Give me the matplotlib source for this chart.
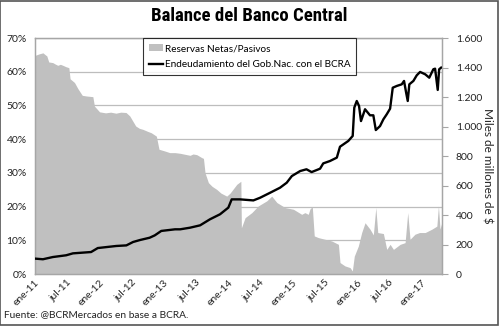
import matplotlib
matplotlib.use("Agg")
import matplotlib.pyplot as plt
import matplotlib.dates as mdates
import matplotlib.ticker as mticker
from matplotlib.patches import Patch, Rectangle
from matplotlib.lines import Line2D
import pandas as pd

plt.rcParams["font.family"] = ["Lato", "DejaVu Sans"]

# Reservas netas / pasivos del BCRA (%)
res_dates = [
    "2011-01-04", "2011-01-25", "2011-02-15", "2011-03-01", "2011-03-09", "2011-03-20",
    "2011-04-12", "2011-04-25", "2011-05-10", "2011-05-25", "2011-06-08", "2011-06-25",
    "2011-07-12", "2011-07-19", "2011-08-13", "2011-09-01", "2011-09-26", "2011-10-20",
    "2011-11-25", "2011-12-04", "2012-01-02", "2012-02-05", "2012-03-05", "2012-04-04",
    "2012-05-01", "2012-05-31", "2012-06-21", "2012-07-25", "2012-08-15", "2012-09-04",
    "2012-10-01", "2012-10-21", "2012-11-19", "2012-12-04", "2013-01-05", "2013-02-03",
    "2013-03-05", "2013-04-03", "2013-05-01", "2013-05-29", "2013-06-15", "2013-07-06",
    "2013-08-04", "2013-08-13", "2013-08-22", "2013-09-10", "2013-10-01", "2013-10-27",
    "2013-11-20", "2013-12-23", "2014-01-11", "2014-02-18", "2014-03-13", "2014-03-16",
    "2014-04-06", "2014-05-14", "2014-06-20", "2014-08-07", "2014-09-04", "2014-10-03",
    "2014-11-19", "2015-01-05", "2015-02-21", "2015-03-11", "2015-03-30", "2015-04-09",
    "2015-04-22", "2015-05-03", "2015-05-26", "2015-07-03", "2015-08-10", "2015-09-17",
    "2015-09-26", "2015-10-24", "2015-11-22", "2015-12-05", "2015-12-16", "2016-01-08",
    "2016-01-27", "2016-02-15", "2016-03-14", "2016-04-02", "2016-04-16", "2016-04-27",
    "2016-05-29", "2016-06-17", "2016-07-06", "2016-07-25", "2016-09-01", "2016-09-29",
    "2016-10-14", "2016-10-27", "2016-11-24", "2016-12-20", "2017-01-21", "2017-02-28",
    "2017-03-28", "2017-04-06", "2017-04-15", "2017-04-25",
]
res_pct = [
    64.9, 65.3, 65.6, 65.0, 64.7, 62.9,
    62.7, 62.3, 61.9, 62.2, 61.9, 61.5,
    61.2, 57.9, 56.8, 55.0, 53.0, 52.8,
    52.6, 49.8, 48.1, 47.8, 48.0, 47.7,
    48.0, 47.9, 46.9, 43.9, 43.2, 42.9,
    42.3, 41.9, 40.9, 37.0, 36.5, 36.0,
    36.0, 35.8, 35.5, 35.2, 35.6, 35.4,
    34.5, 34.3, 30.0, 27.1, 26.0, 25.1,
    24.0, 23.1, 24.0, 26.6, 27.5, 13.7,
    16.7, 18.2, 20.2, 21.7, 23.1, 21.2,
    19.7, 19.2, 17.7, 18.2, 17.7, 19.3,
    20.0, 11.3, 10.8, 10.3, 9.8, 8.8,
    3.4, 2.4, 1.9, 0.9, 5.3, 8.3,
    12.3, 15.2, 13.3, 11.6, 19.7, 12.3,
    12.0, 7.3, 8.8, 7.3, 8.8, 9.3,
    18.2, 10.3, 11.8, 12.3, 12.3, 13.3,
    14.2, 20.2, 13.3, 15.2,
]

# Endeudamiento del Gobierno Nacional con el BCRA (miles de millones de $)
deuda_dates = [
    "2011-01-04", "2011-02-15", "2011-04-12", "2011-06-27", "2011-08-04", "2011-11-15",
    "2011-12-23", "2012-04-06", "2012-06-02", "2012-07-10", "2012-08-17", "2012-10-12",
    "2012-11-10", "2012-12-17", "2013-03-05", "2013-04-03", "2013-05-29", "2013-07-25",
    "2013-09-19", "2013-11-15", "2014-01-01", "2014-01-20", "2014-03-08", "2014-05-23",
    "2014-06-30", "2014-08-26", "2014-10-21", "2014-11-28", "2014-12-27", "2015-02-12",
    "2015-03-20", "2015-04-18", "2015-06-05", "2015-06-23", "2015-07-31", "2015-09-08",
    "2015-09-26", "2015-11-12", "2015-12-07", "2015-12-16", "2015-12-30", "2016-01-12",
    "2016-01-23", "2016-02-15", "2016-03-14", "2016-04-02", "2016-04-16", "2016-05-10",
    "2016-05-29", "2016-06-17", "2016-07-06", "2016-07-21", "2016-08-13", "2016-09-10",
    "2016-09-23", "2016-10-05", "2016-10-14", "2016-10-23", "2016-11-15", "2016-12-04",
    "2016-12-23", "2017-01-21", "2017-02-13", "2017-03-08", "2017-03-18", "2017-04-02",
    "2017-04-10", "2017-04-21",
]
deuda = [
    104, 100, 115, 127, 140, 149,
    176, 190, 194, 217, 230, 246,
    262, 292, 303, 303, 314, 330,
    371, 405, 450, 506, 506, 499,
    517, 551, 585, 619, 664, 698,
    710, 691, 714, 750, 766, 789,
    863, 902, 936, 1128, 1173, 1139,
    1037, 1117, 1076, 1076, 976, 1003,
    1049, 1083, 1121, 1263, 1275, 1286,
    1309, 1229, 1173, 1286, 1309, 1347,
    1370, 1354, 1331, 1388, 1392, 1248,
    1388, 1399,
]

res_x = pd.to_datetime(res_dates)
deuda_x = pd.to_datetime(deuda_dates)

fig = plt.figure(figsize=(4.99, 3.26), dpi=100)
ax = fig.add_axes([0.0701, 0.1595, 0.8156, 0.7239])
ax2 = ax.twinx()

grid_c = "#bdbdbd"
axis_c = "#a6a6a6"

ax.fill_between(res_x, res_pct, 0, color="#c0c0c0", linewidth=0, zorder=2)
ax.set_ylim(0, 70)
ax.yaxis.set_major_locator(mticker.MultipleLocator(10))
ax.yaxis.set_major_formatter(mticker.FuncFormatter(lambda v, p: f"{v:.0f}%"))
ax.set_axisbelow(True)
ax.grid(axis="y", color=grid_c, linewidth=0.9)
ax.tick_params(axis="y", length=0, labelsize=7.5, pad=6, colors="#222222")

ax.set_xlim(pd.Timestamp("2011-01-01"), pd.Timestamp("2017-04-26"))
ax.xaxis.set_major_locator(mdates.MonthLocator(bymonth=[1, 7]))
meses = {1: "ene", 7: "jul"}
ax.xaxis.set_major_formatter(mticker.FuncFormatter(
    lambda v, p: f"{meses[mdates.num2date(v).month]}-{mdates.num2date(v):%y}"))
ax.tick_params(axis="x", length=0, labelsize=7.5, pad=3, colors="#222222")
for lbl in ax.get_xticklabels():
    lbl.set_rotation(45)
    lbl.set_ha("right")
    lbl.set_rotation_mode("anchor")

ax2.plot(deuda_x, deuda, color="black", linewidth=1.7, zorder=3)
ax2.set_ylim(0, 1600)
ax2.yaxis.set_major_locator(mticker.MultipleLocator(200))
ax2.yaxis.set_major_formatter(
    mticker.FuncFormatter(lambda v, p: f"{v:,.0f}".replace(",", ".")))
ax2.tick_params(axis="y", length=4, width=0.8, color=axis_c, labelsize=7.5,
                pad=6, labelcolor="#222222")
ax2.set_ylabel("Miles de millones de $", rotation=270, fontsize=8.5,
               color="#222222", va="center")
ax2.yaxis.set_label_coords(1.11, 0.46)

for a in (ax, ax2):
    for side in ("left", "right", "bottom", "top"):
        a.spines[side].set_color(axis_c)
        a.spines[side].set_linewidth(0.9)

handles = [
    Patch(facecolor="#c0c0c0", edgecolor="none"),
    Line2D([], [], color="black", linewidth=1.7),
]
labels = ["Reservas Netas/Pasivos", "Endeudamiento del Gob.Nac. con el BCRA"]
leg = ax2.legend(handles, labels, loc="upper left",
                 bbox_to_anchor=(0.287, 0.883), bbox_transform=fig.transFigure,
                 fontsize=7.2, frameon=True, fancybox=False, borderpad=0.6,
                 handlelength=1.4, handletextpad=0.15, labelspacing=0.7,
                 borderaxespad=0)
leg.get_frame().set_edgecolor("black")
leg.get_frame().set_linewidth(0.8)

fig.text(0.5, 0.95, "Balance del Banco Central", ha="center", va="center",
         fontsize=13.5, fontweight="bold", fontstretch="condensed",
         family=["Roboto Condensed", "Liberation Sans Narrow", "DejaVu Sans"])
fig.text(0.008, 0.022, "Fuente: @BCRMercados en base a BCRA.", ha="left",
         va="bottom", fontsize=7.3, color="#222222")

fig.patches.append(Rectangle((0.001, 0.002), 0.997, 0.995, transform=fig.transFigure,
                             fill=False, edgecolor="#555555", linewidth=1.2))

fig.savefig("out.png", dpi=100)
